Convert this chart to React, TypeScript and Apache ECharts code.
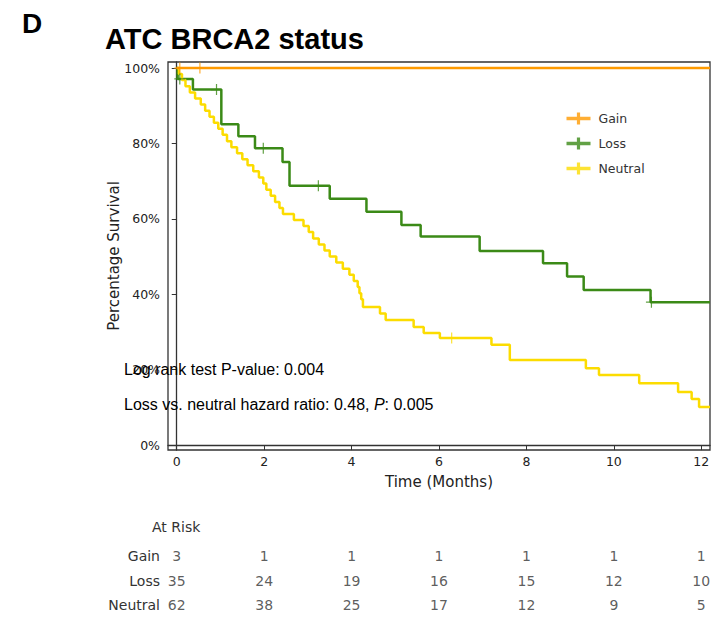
import React, { useEffect, useRef } from 'react';
import * as echarts from 'echarts';

// Groups and their colours
const groups = ['Gain', 'Loss', 'Neutral'];
const groupColors = ['#ff9a00', '#3b8a17', '#fcdc00'];

// Kaplan–Meier curves: [time in months, survival %] after each event
const gainCurve: [number, number][] = [[0, 100], [12.2, 100]];
const lossCurve: [number, number][] = [
  [0, 100], [0.02, 97.1], [0.37, 94.3], [1.02, 85.1], [1.41, 81.9], [1.79, 78.7],
  [2.42, 75.1], [2.58, 68.8], [3.5, 65.3], [4.34, 61.9], [5.14, 58.4], [5.58, 55.3],
  [6.93, 51.5], [8.38, 48.2], [8.93, 44.7], [9.31, 41.1], [10.84, 37.9], [12.2, 37.9],
];
const neutralCurve: [number, number][] = [
  [0, 100], [0.05, 98.4], [0.12, 96.8], [0.2, 95.2], [0.3, 93.5], [0.42, 91.9],
  [0.55, 90.3], [0.65, 88.7], [0.75, 87.1], [0.85, 85.5], [0.95, 83.9], [1.05, 82.3],
  [1.15, 80.6], [1.25, 79.0], [1.38, 77.4], [1.5, 75.8], [1.62, 74.2], [1.75, 72.6],
  [1.88, 71.0], [1.98, 69.4], [2.05, 67.7], [2.15, 66.1], [2.25, 64.5], [2.35, 62.9],
  [2.43, 61.3], [2.68, 59.7], [2.9, 58.1], [3.02, 56.5], [3.12, 54.8], [3.25, 53.2],
  [3.38, 51.6], [3.5, 50.0], [3.65, 48.4], [3.8, 46.8], [3.95, 45.2], [4.05, 43.5],
  [4.14, 41.9], [4.18, 40.3], [4.22, 38.7], [4.26, 36.6], [4.65, 34.9], [4.78, 33.2],
  [5.42, 31.3], [5.65, 29.7], [6.02, 28.4], [7.2, 26.6], [7.62, 22.6], [9.36, 20.4],
  [9.66, 18.6], [10.58, 16.4], [11.47, 14.1], [11.78, 12.2], [11.95, 10.1], [12.2, 10.1],
];

// Censored observations
const gainCensored: [number, number][] = [[0.07, 100], [0.53, 100]];
const lossCensored: [number, number][] = [[0.07, 97.1], [0.91, 94.3], [1.98, 78.7], [3.24, 68.8], [10.86, 37.9]];
const neutralCensored: [number, number][] = [[6.29, 28.4]];

// Numbers at risk
const riskTimes = [0, 2, 4, 6, 8, 10, 12];
const gainAtRisk = [3, 1, 1, 1, 1, 1, 1];
const lossAtRisk = [35, 24, 19, 16, 15, 12, 10];
const neutralAtRisk = [62, 38, 25, 17, 12, 9, 5];

// Axis ticks
const xTicks = [0, 2, 4, 6, 8, 10, 12];
const yTicks = [0, 20, 40, 60, 80, 100];

const DEJAVU = '"DejaVu Sans", sans-serif';
const ARIAL = '"Liberation Sans", Arial, sans-serif';

export default function App() {
  const ref = useRef<HTMLDivElement>(null);

  useEffect(() => {
    if (!ref.current) return;
    const chart = echarts.init(ref.current, undefined, { renderer: 'svg' });

    const curves = [gainCurve, lossCurve, neutralCurve];
    const censored = [gainCensored, lossCensored, neutralCensored];
    const atRisk = [gainAtRisk, lossAtRisk, neutralAtRisk];

    const lineSeries = groups.map((g, i) => ({
      type: 'line',
      name: g,
      data: curves[i],
      step: 'end',
      symbol: 'none',
      xAxisIndex: 0,
      yAxisIndex: 0,
      z: i === 0 ? 5 : 3,
      color: groupColors[i],
      lineStyle: { color: groupColors[i], width: 2.5 },
      silent: true,
    }));

    const censorSeries = groups.map((g, i) => ({
      type: 'scatter',
      name: g,
      data: censored[i],
      symbol: 'path://M5,0V10M0,5H10',
      symbolSize: 11,
      xAxisIndex: 0,
      yAxisIndex: 0,
      z: 6,
      itemStyle: { color: 'none', borderColor: groupColors[i], borderWidth: 1.2 },
      silent: true,
    }));

    const riskSeries = groups.map((g, i) => ({
      type: 'scatter',
      name: 'risk-' + g,
      data: riskTimes.map((t, k) => [t, g, atRisk[i][k]]),
      symbolSize: 1,
      xAxisIndex: 1,
      yAxisIndex: 1,
      itemStyle: { color: 'transparent' },
      label: {
        show: true,
        position: 'inside',
        formatter: (p: any) => String(p.value[2]),
        fontSize: 14,
        fontFamily: DEJAVU,
        color: '#333',
      },
      silent: true,
    }));

    chart.setOption({
      animation: false,
      backgroundColor: '#fff',
      grid: [
        { left: 168, right: 16, top: 62, bottom: 174, show: true, borderColor: '#333', borderWidth: 1.3, backgroundColor: 'transparent' },
        { left: 168, right: 16, top: 544, height: 73.5 },
      ],
      xAxis: [
        {
          type: 'value',
          gridIndex: 0,
          min: -0.2,
          max: 12.2,
          axisLine: { show: true, lineStyle: { color: '#333', width: 1.3 } },
          axisTick: { show: true, customValues: xTicks, length: 5, lineStyle: { color: '#333' } },
          axisLabel: { customValues: xTicks, fontSize: 12.5, color: '#222', margin: 5, fontFamily: DEJAVU },
          splitLine: { show: false },
          name: 'Time (Months)',
          nameLocation: 'middle',
          nameGap: 24,
          nameMoveOverlap: false,
          nameTextStyle: { fontSize: 15, color: '#222', fontFamily: DEJAVU },
        },
        { type: 'value', gridIndex: 1, min: -0.2, max: 12.2, show: false },
      ],
      yAxis: [
        {
          type: 'value',
          gridIndex: 0,
          min: -1.3,
          max: 101.6,
          axisLine: { show: true, lineStyle: { color: '#333', width: 1.3 } },
          axisTick: { show: true, customValues: yTicks, length: 5, lineStyle: { color: '#333' } },
          axisLabel: { customValues: yTicks, formatter: '{value}%', fontSize: 12.5, color: '#222', margin: 8, fontFamily: DEJAVU },
          splitLine: { show: false },
          name: 'Percentage Survival',
          nameLocation: 'middle',
          nameGap: 47,
          nameMoveOverlap: false,
          nameTextStyle: { fontSize: 15, color: '#222', fontFamily: DEJAVU },
        },
        {
          type: 'category',
          gridIndex: 1,
          data: ['Neutral', 'Loss', 'Gain'],
          axisLine: { show: false },
          axisTick: { show: false },
          splitLine: { show: false },
          axisLabel: { fontSize: 14, color: '#333', margin: 8, fontFamily: DEJAVU },
        },
      ],
      legend: {
        data: groups,
        orient: 'vertical',
        left: 565,
        top: 111,
        padding: 0,
        itemWidth: 22,
        itemHeight: 10,
        itemGap: 10,
        icon: 'path://M0,4.3H22V5.7H0Z M10.4,0H11.6V10H10.4Z',
        selectedMode: false,
        textStyle: { fontSize: 12.5, color: '#333', fontFamily: DEJAVU, padding: [0, 0, 0, 4] },
      },
      graphic: [
        { type: 'text', x: 22, y: 23, style: { text: 'D', fontSize: 28, fontWeight: 'bold', fontFamily: ARIAL, fill: '#000', verticalAlign: 'middle' } },
        { type: 'text', x: 105, y: 39, style: { text: 'ATC BRCA2 status', fontSize: 29, fontWeight: 'bold', fontFamily: ARIAL, fill: '#000', verticalAlign: 'middle' } },
        { type: 'text', x: 152, y: 527, style: { text: 'At Risk', fontSize: 14, fontFamily: DEJAVU, fill: '#333', verticalAlign: 'middle' } },
        { type: 'text', x: 124, y: 369, z: 10, style: { text: 'Log rank test P-value: 0.004', fontSize: 16, fontFamily: ARIAL, fill: '#000', verticalAlign: 'middle' } },
        {
          type: 'text', x: 124, y: 404, z: 10,
          style: {
            text: 'Loss vs. neutral hazard ratio: 0.48, {i|P}: 0.005',
            fontSize: 16, fontFamily: ARIAL, fill: '#000', verticalAlign: 'middle',
            rich: { i: { fontStyle: 'italic', fontSize: 16, fontFamily: ARIAL, fill: '#000' } },
          },
        },
      ],
      series: [...censorSeries, ...lineSeries, ...riskSeries],
    });

    return () => chart.dispose();
  }, []);

  return <div ref={ref} style={{ position: 'fixed', left: 0, top: 0, width: 726, height: 624, background: '#fff' }} />;
}
